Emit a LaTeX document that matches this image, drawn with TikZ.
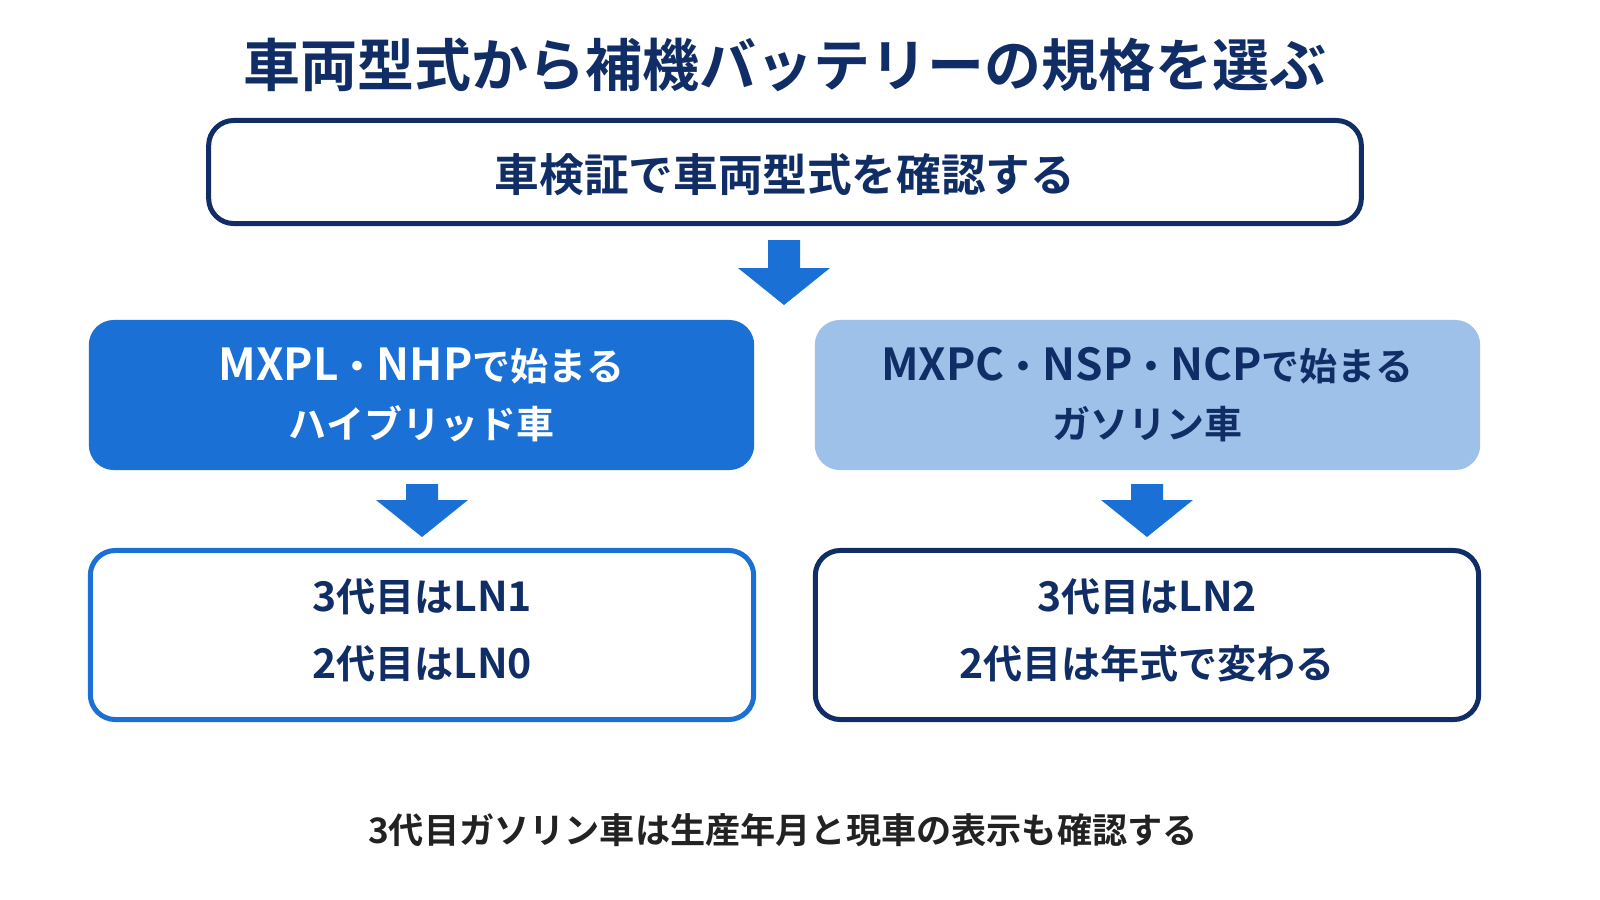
\documentclass[tikz,border=0pt]{standalone}
\usepackage{fontspec}
\setmainfont{Noto Sans CJK JP}[BoldFont={Noto Sans CJK JP Bold}]
\newfontfamily\latfont{Noto Sans CJK JP}[Scale=1.16, BoldFont={Noto Sans CJK JP Bold}]
\newfontfamily\digfont{Noto Sans CJK JP}[Scale=1.05, BoldFont={Noto Sans CJK JP Bold}]
\usepackage{xcolor}
\definecolor{navy}{HTML}{102D66}
\definecolor{bblue}{HTML}{1B70D6}
\definecolor{lblue}{HTML}{9DC1E8}
\definecolor{ink}{HTML}{222222}
\newcommand{\lat}[1]{{\latfont\bfseries #1}}
\newcommand{\dig}[1]{{\digfont\bfseries #1}}
\newcommand{\up}[2]{\raisebox{#1}[\height][\depth]{#2}}
\newcommand{\dnarrow}[3]{\fill[bblue] (#1-16,#2) -- (#1+16,#2) -- (#1+16,#2+#3) -- (#1+46,#2+#3) -- (#1,#2+#3+37) -- (#1-46,#2+#3) -- (#1-16,#2+#3) -- cycle;}

\begin{document}
\begin{tikzpicture}[x=0.01cm,y=-0.01cm,
  box/.style={rounded corners=0.25cm, line width=0.05cm, align=center, text=navy},
  midtext/.style={font=\bfseries\fontsize{10.8}{16.5}\selectfont},
  lowtext/.style={font=\bfseries\fontsize{11.1}{19}\selectfont}]
\useasboundingbox (0,0) rectangle (1600,900);

\node[text=navy, font=\bfseries\fontsize{16.2}{20}\selectfont] (title) at (785,65) {車両型式から補機バッテリーの規格を選ぶ};
\node[box, draw=navy, minimum width=11.52cm, minimum height=1.03cm, font=\bfseries\fontsize{12.7}{16}\selectfont] (check) at (785,172) {\up{-0.03cm}{車検証で車両型式を確認する}};
\dnarrow{784}{240}{28}

\node[box, fill=bblue, text=white, midtext, minimum width=6.65cm, minimum height=1.5cm] (hybrid) at (421.5,395) {\lat{MXPL}・\lat{NHP}で始まる\\ハイブリッド車};
\node[box, fill=lblue, midtext, minimum width=6.65cm, minimum height=1.5cm] (gasoline) at (1147.5,395) {\lat{MXPC}・\lat{NSP}・\lat{NCP}で始まる\\ガソリン車};
\dnarrow{422}{484}{16}
\dnarrow{1147}{484}{16}

\node[box, draw=bblue, fill=white, lowtext, minimum width=6.63cm, minimum height=1.69cm] (hybridbat) at (422,635) {\up{0.05cm}{\dig{3}代目は\dig{LN1}}\\\up{0.05cm}{\dig{2}代目は\dig{LN0}}};
\node[box, draw=navy, fill=white, lowtext, minimum width=6.63cm, minimum height=1.69cm] (gasbat) at (1147,635) {\up{0.05cm}{\dig{3}代目は\dig{LN2}}\\\up{0.05cm}{\dig{2}代目は年式で変わる}};

\node[text=ink, font=\bfseries\fontsize{10}{12}\selectfont] (note) at (783,830) {3代目ガソリン車は生産年月と現車の表示も確認する};
\end{tikzpicture}
\end{document}
